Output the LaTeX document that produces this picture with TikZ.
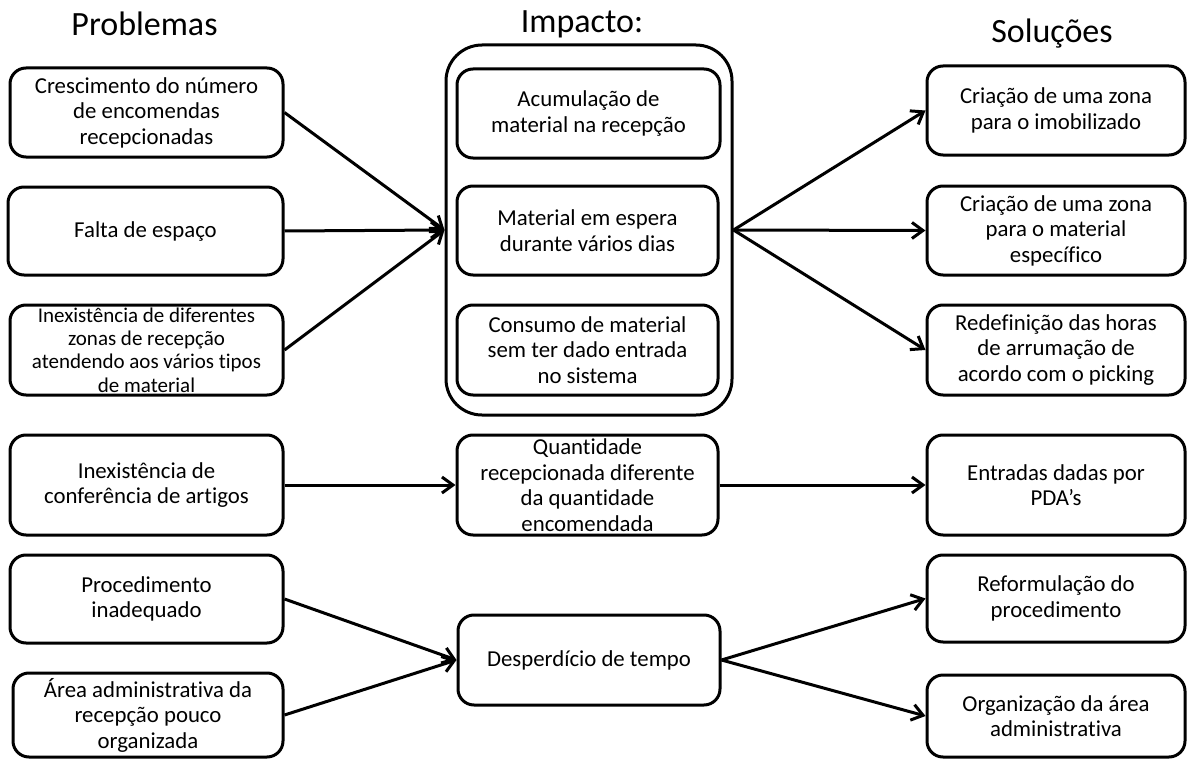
\documentclass[tikz,border=0pt]{standalone}
\usepackage{fontspec}
\setmainfont{Carlito}[Ligatures={NoCommon}]
\usetikzlibrary{arrows.meta,fit}

\tikzset{
  box/.style={draw, line width=3pt, rounded corners=16pt, inner sep=0pt},
  bigbox/.style={draw, line width=3pt, rounded corners=36pt, inner sep=0pt},
  txt/.style={align=center, inner sep=0pt, font=\fontsize{22.8}{25.5}\selectfont},
  smalltxt/.style={align=center, inner sep=0pt, font=\fontsize{21}{23.3}\selectfont},
  heading/.style={anchor=base, inner sep=0pt, font=\fontsize{34}{40}\selectfont},
  link/.style={line width=3pt, -{Straight Barb[length=11pt,width=16pt]}},
}

% rounded box from its corners, with its text centred on top
\newcommand{\bx}[7][txt]{%
  \node[box, fit={(#3,#4) (#5,#6)}] (#2) {};
  \node[#1] (#2t) at (#2.center) {#7};
}

\begin{document}
\begin{tikzpicture}[x=1pt, y=-1pt]
\useasboundingbox (0,0) rectangle (1187,760);

% column headings
\node[heading] (hp) at (144.5,36) {Problemas};
\node[heading] (hi) at (582,33) {Impacto:};
\node[heading] (hs) at (1052,43) {Soluções};

% problems
\bx{p1}{10}{68}{283}{157}{Crescimento do número\\de encomendas\\recepcionadas}
\bx{p2}{8}{187}{283}{275}{Falta de espaço}
\bx[smalltxt]{p3}{10}{305}{283}{395}{Inexistência de diferentes\\zonas de recepção\\atendendo aos vários tipos\\de material}
\bx{p4}{10}{435}{283}{535}{Inexistência de\\conferência de artigos}
\bx{p5}{10}{555}{283}{643}{Procedimento\\inadequado}
\bx{p6}{13}{673}{283}{757}{Área administrativa da\\recepção pouco\\organizada}

% impacts
\node[bigbox, fit={(446,45) (732,415)}] (imp) {};
\bx{i1}{457}{69}{720}{158}{Acumulação de\\material na recepção}
\bx{i2}{457}{186}{718}{275}{Material em espera\\durante vários dias}
\bx{i3}{457}{305}{718}{395}{Consumo de material\\sem ter dado entrada\\no sistema}
\bx{i4}{457}{435}{718}{535}{Quantidade\\recepcionada diferente\\da quantidade\\encomendada}
\bx{i5}{458}{615}{720}{705}{Desperdício de tempo}

% solutions
\bx{s1}{927}{66}{1185}{155}{Criação de uma zona\\para o imobilizado}
\bx{s2}{927}{186}{1185}{275}{Criação de uma zona\\para o material\\específico}
\bx{s3}{927}{305}{1185}{395}{Redefinição das horas\\de arrumação de\\acordo com o picking}
\bx{s4}{927}{435}{1185}{535}{Entradas dadas por\\PDA’s}
\bx{s5}{927}{555}{1185}{642}{Reformulação do\\procedimento}
\bx{s6}{927}{675}{1185}{757}{Organização da área\\administrativa}

% connectors
\draw[link] (p1.east) -- (imp.west);
\draw[link] (p2.east) -- (imp.west);
\draw[link] (p3.east) -- (imp.west);
\draw[link] (imp.east) -- (s1.west);
\draw[link] (imp.east) -- (s2.west);
\draw[link] (imp.east) -- (s3.west);

\draw[link] (p4.east) -- (i4.west);
\draw[link] (i4.east) -- (s4.west);

\draw[link] (p5.east) -- (i5.west);
\draw[link] (p6.east) -- (i5.west);
\draw[link] (i5.east) -- (s5.west);
\draw[link] (i5.east) -- (s6.west);
\end{tikzpicture}
\end{document}
